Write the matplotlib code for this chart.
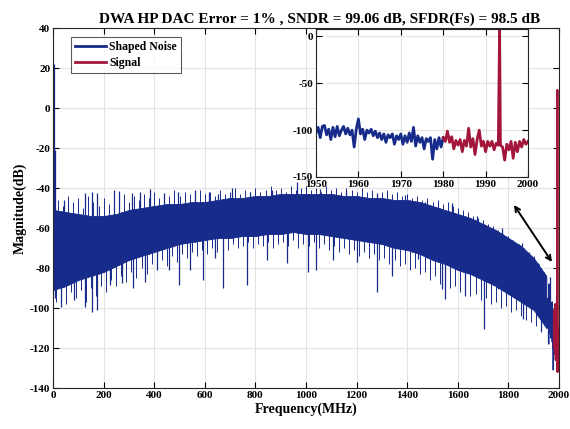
import numpy as np
import matplotlib
matplotlib.use("Agg")
import matplotlib.pyplot as plt
from matplotlib.lines import Line2D

plt.rcParams['font.family'] = ['Liberation Serif', 'DejaVu Serif']
plt.rcParams['font.weight'] = 'bold'
plt.rcParams['axes.unicode_minus'] = False

BLUE = '#172b8a'
RED = '#a3153a'

# main spectrum: dense noise band (MHz, dB)
env_f = [0, 50, 100, 150, 200, 250, 300, 350, 400, 450, 500, 550, 600, 650,
         700, 750, 800, 850, 900, 950, 1000, 1050, 1100, 1150, 1200, 1250,
         1300, 1350, 1400, 1450, 1500, 1550, 1600, 1650, 1700, 1750, 1800,
         1850, 1900, 1950]
env_top = [-51, -52, -53, -54, -54, -53, -51, -50, -49, -48, -48, -47, -47, -46,
           -45, -45, -44, -44, -43, -43, -43, -43, -43, -44, -44, -45,
           -45, -46, -46, -47, -49, -51, -53, -55, -58, -61, -65,
           -69, -75, -84]
env_low = [-91, -89, -86, -84, -82, -79, -76, -74, -72, -70, -68, -67, -66, -65,
           -65, -64, -64, -63, -63, -62, -63, -63, -64, -65, -66, -67,
           -68, -70, -71, -73, -76, -78, -81, -83, -86, -89, -93,
           -97, -101, -110]

# hairs on the upper and lower edge of the band
hair_up_f = list(range(20, 1941, 20))
hair_up_db = [-46, -49, -44, -47, -45, -50, -44, -47, -49, -45, -48, -44, -46,
              -43, -47, -44, -46, -43, -45, -42, -45, -43, -44, -41, -44, -42,
              -43, -45, -41, -43, -42, -44, -41, -43, -42, -40, -43, -41, -42,
              -40, -42, -41, -39, -41, -40, -42, -39, -41, -40, -39, -41, -40,
              -42, -39, -41, -40, -42, -40, -41, -42, -40, -42, -41, -43, -42,
              -41, -43, -42, -44, -43, -45, -44, -46, -45, -47, -46, -48, -47,
              -49, -50, -51, -52, -54, -55, -56, -58, -59, -61, -63, -64, -66,
              -68, -70, -72, -74, -78, -82]
hair_dn_f = list(range(10, 1931, 20))
hair_dn_db = [-97, -93, -98, -92, -95, -91, -97, -90, -94, -89, -92, -86, -89,
              -84, -87, -82, -85, -80, -83, -78, -80, -76, -79, -74, -77, -73,
              -75, -72, -74, -71, -73, -70, -72, -69, -71, -68, -70, -69, -67,
              -70, -68, -69, -67, -70, -68, -67, -69, -66, -70, -68, -69, -67,
              -70, -68, -71, -69, -72, -70, -73, -71, -74, -72, -75, -73, -76,
              -75, -78, -76, -79, -78, -81, -80, -83, -82, -86, -84, -88, -87,
              -90, -89, -92, -91, -94, -93, -96, -95, -98, -97, -100, -99,
              -102, -101, -104, -106, -107, -109, -112]

# isolated spikes sticking out of the band
up_f = [3, 9, 42, 128, 154, 174, 240, 259, 312, 345, 385, 437, 494, 560, 615,
        651, 706, 779, 864, 963, 1055, 1160, 1279, 1391, 1470, 1576, 1674,
        1773, 1852, 1918, 1964]
up_db = [22, -21, -46, -42.7, -42, -42.7, -41, -41.3, -42.7, -42, -40.7, -42.7,
         -42, -41, -42, -43, -40, -41.8, -41, -37, -40.7, -41, -42.7, -43.5,
         -46.8, -47.7, -54, -60, -67.5, -77.7, -84.5]
down_f = [9, 33, 82, 125, 154, 174, 226, 273, 315, 362, 411, 460, 497, 543,
          591, 641, 671, 766, 844, 924, 1009, 1039, 1108, 1200, 1279, 1341,
          1444, 1536, 1549, 1628, 1703, 1760, 1859, 1929]
down_db = [-95, -99.3, -96, -99.3, -101.8, -101, -88.5, -87.7, -90, -86.8, -81,
           -81, -88.5, -81, -86, -75, -90, -88.5, -76, -77.7, -82, -81, -76,
           -77, -92, -84, -75.7, -90.7, -95.7, -94, -110.7, -90.7, -105.7,
           -111.5]

# zoomed region 1950-2000 MHz, 0.5 MHz bins
noise_f = np.arange(1950, 1980.01, 0.5)
noise_db = [-103, -97, -108, -96, -95, -105, -99, -110, -97, -107, -96, -106,
            -100, -96, -104, -98, -105, -100, -118, -99, -88, -104, -99, -110,
            -100, -103, -99, -106, -101, -108, -103, -110, -104, -113, -105,
            -108, -104, -115, -106, -110, -104, -115, -106, -113, -103, -112,
            -97, -117, -106, -113, -108, -120, -109, -112, -108, -131, -110,
            -120, -108, -118, -108]
sig_f = [1980, 1980.5, 1981, 1981.5, 1982, 1982.5, 1983, 1983.5, 1984, 1984.5,
         1985, 1985.5, 1986, 1986.5, 1987, 1987.5, 1988, 1988.5, 1989, 1989.5,
         1990, 1990.5, 1991, 1991.5, 1992, 1992.5, 1993, 1993.3, 1993.5,
         1994, 1994.5, 1995, 1995.5, 1996, 1996.5, 1997, 1997.5, 1998, 1998.5,
         1999, 1999.5, 2000]
sig_db = [-108, -112, -101, -113, -107, -120, -111, -116, -110, -123,
          -111, -117, -98, -118, -109, -126, -110, -100, -117, -112,
          -123, -112, -117, -112, -121, -114, -116, 9, -116,
          -118, -132, -115, -121, -112, -130, -113, -123, -112, -118,
          -110, -115, -112]

main_xticks = list(range(0, 2001, 200))
main_yticks = list(range(-140, 41, 20))
ins_xticks = [1950, 1960, 1970, 1980, 1990, 2000]
ins_yticks = [-150, -100, -50, 0]


def style_axes(ax, xt, yt, size=8):
    ax.set_xticks(xt, [str(v) for v in xt], fontsize=size, fontweight='bold',
                  family='Liberation Serif')
    ax.set_yticks(yt, [str(v) for v in yt], fontsize=size, fontweight='bold',
                  family='Liberation Serif')
    ax.grid(True, color='#e3e3e3', lw=0.8)
    ax.set_axisbelow(True)
    ax.tick_params(direction='in', top=True, right=True, length=4,
                   width=0.8, pad=2)
    for s in ax.spines.values():
        s.set_color('#262626')
        s.set_linewidth(0.8)


fig = plt.figure(figsize=(5.7, 4.29), dpi=100)
ax = fig.add_axes([53 / 570, 1 - 388 / 429, 506 / 570, 360 / 429])

ax.fill_between(env_f, env_low, env_top, color=BLUE, lw=0.6, edgecolor=BLUE)
ax.vlines(hair_up_f, np.interp(hair_up_f, env_f, env_low), hair_up_db,
          color=BLUE, lw=0.7)
ax.vlines(hair_dn_f, np.interp(hair_dn_f, env_f, env_top), hair_dn_db,
          color=BLUE, lw=0.7)
ax.vlines(up_f, np.interp(up_f, env_f, env_low), up_db, color=BLUE, lw=0.9)
ax.vlines(down_f, np.interp(down_f, env_f, env_top), down_db, color=BLUE, lw=0.9)
ax.plot(noise_f, noise_db, color=BLUE, lw=1.0)
ax.plot(sig_f, sig_db, color=RED, lw=1.6)

ax.set_xlim(0, 2000)
ax.set_ylim(-140, 40)
style_axes(ax, main_xticks, main_yticks)
ax.set_xlabel('Frequency(MHz)', fontsize=10, fontweight='bold', labelpad=2)
ax.set_ylabel('Magnitude(dB)', fontsize=10, fontweight='bold', labelpad=2)
ax.set_title('DWA HP DAC Error = 1% , SNDR = 99.06 dB, SFDR(Fs) = 98.5 dB',
             fontsize=11, fontweight='bold', pad=4, x=0.527)

handles = [Line2D([], [], color=BLUE, lw=2), Line2D([], [], color=RED, lw=2)]
leg = ax.legend(handles, ['Shaped Noise', 'Signal'], loc='upper left',
                bbox_to_anchor=(0.035, 0.975), fontsize=8.5, frameon=True,
                fancybox=False, edgecolor='#333333', handlelength=2.6,
                borderpad=0.35, labelspacing=0.35, handletextpad=0.3,
                borderaxespad=0)
leg.get_frame().set_linewidth(0.8)
for t in leg.get_texts():
    t.set_fontweight('bold')

ax.annotate('', xy=(1822, -48.5), xytext=(1972, -77),
            arrowprops=dict(arrowstyle='<->', color='black', lw=1.4,
                            mutation_scale=9, shrinkA=0, shrinkB=0))

# inset
ins = fig.add_axes([316 / 570, 1 - 177 / 429, 212 / 570, 148 / 429])
ins.plot(noise_f, noise_db, color=BLUE, lw=2.0)
ins.plot(sig_f, sig_db, color=RED, lw=2.0)
ins.set_xlim(1950, 2000)
ins.set_ylim(-150, 8)
style_axes(ins, ins_xticks, ins_yticks)

fig.savefig('out.png', dpi=100)
